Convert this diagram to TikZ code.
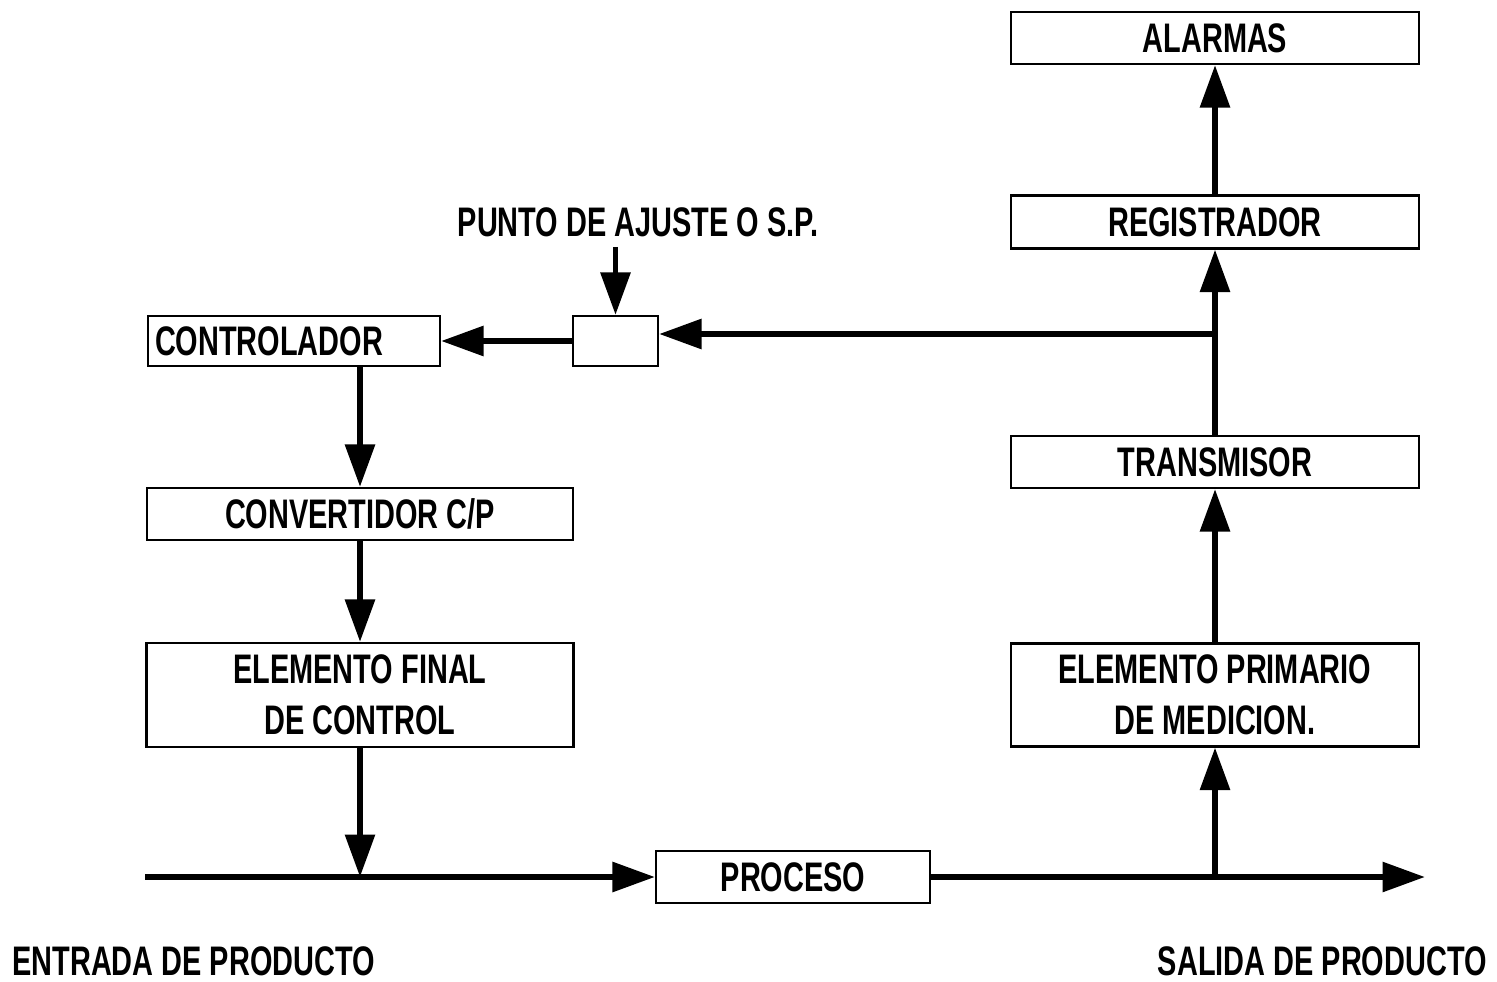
\documentclass[tikz,border=0pt]{standalone}
\usepackage{fontspec}
\setmainfont{Liberation Sans}[FakeStretch=0.7]
\usetikzlibrary{arrows.meta,positioning}

\begin{document}
\begin{tikzpicture}[
  font=\bfseries\fontsize{23.5}{29}\selectfont,
  bloque/.style={draw, line width=1.2pt, inner sep=0pt, align=center},
  senal/.style={-{Triangle[length=8.5mm,width=5.8mm]}, line width=3.4pt},
  rotulo/.style={inner sep=0pt}
]
\useasboundingbox (0,0) rectangle (29.94,-19.64);

% Measuring branch (right column).
\node[bloque, minimum width=8.16cm, minimum height=1.04cm] (alarmas) at (24.3,-0.76) {ALARMAS};
\node[bloque, minimum width=8.16cm, minimum height=1.06cm] (registrador) at (24.3,-4.44) {REGISTRADOR};
\node[bloque, minimum width=8.16cm, minimum height=1.04cm] (transmisor) at (24.3,-9.24) {TRANSMISOR};
\node[bloque, minimum width=8.16cm, minimum height=2.06cm] (primario) at (24.3,-13.90)
  {ELEMENTO PRIMARIO\\DE MEDICION.};

% Control branch (left column).
\node[bloque, text width=5.56cm, inner xsep=0.14cm, minimum height=1.0cm, align=left] (controlador)
  at (5.88,-6.82) {CONTROLADOR};
\node[bloque, minimum width=1.7cm, minimum height=1.0cm] (suma) at (12.31,-6.82) {};
\node[bloque, minimum width=8.52cm, minimum height=1.04cm] (convertidor) at (7.2,-10.28) {CONVERTIDOR C/P};
\node[bloque, minimum width=8.54cm, minimum height=2.08cm] (final) at (7.2,-13.90)
  {ELEMENTO FINAL\\DE CONTROL};

% Process line.
\node[bloque, minimum width=5.48cm, minimum height=1.04cm] (proceso) at (15.86,-17.54) {PROCESO};

% Free labels.
\node[rotulo] (sp) at (12.76,-4.44) {PUNTO DE AJUSTE O S.P.};
\node[rotulo, anchor=west] (entrada) at (0.24,-19.22) {ENTRADA DE PRODUCTO};
\node[rotulo, anchor=east] (salida) at (29.74,-19.22) {SALIDA DE PRODUCTO};

\coordinate (inicio) at (2.9,-17.54);
\coordinate (fin) at (28.5,-17.54);
\coordinate (mezcla) at (final.south |- inicio);
\coordinate (toma) at (primario.south |- inicio);
\coordinate (derivacion) at ([yshift=0.14cm]transmisor.north |- suma.east);

% Connectors.
\draw[senal] (inicio) -- (proceso.west);
\draw[senal] (proceso.east) -- (fin);
\draw[senal] (final.south) -- (mezcla);
\draw[senal] (toma) -- (primario.south);
\draw[senal] (primario.north) -- (transmisor.south);
\draw[senal] (transmisor.north) -- (registrador.south);
\draw[senal] (registrador.north) -- (alarmas.south);
\draw[senal] (derivacion) -- (derivacion -| suma.east);
\draw[senal] (suma.west) -- (controlador.east);
\draw[senal, shorten <=2mm] (sp.south -| suma.north) -- (suma.north);
\draw[senal] (convertidor.north |- controlador.south) -- (convertidor.north);
\draw[senal] (convertidor.south) -- (final.north);

\end{tikzpicture}
\end{document}
